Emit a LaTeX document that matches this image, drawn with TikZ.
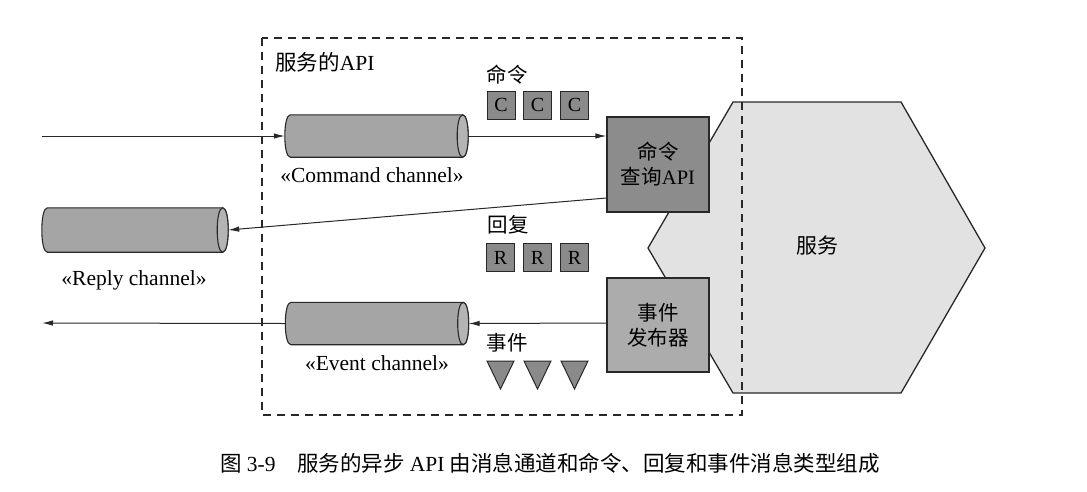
\documentclass[tikz,border=0pt]{standalone}
\usepackage{fontspec}
\setmainfont{Liberation Serif}
\newfontfamily\cjk{Noto Sans CJK SC}
\usetikzlibrary{shapes.geometric,arrows.meta}
\definecolor{cmdgray}{RGB}{140,140,140}
\definecolor{evtgray}{RGB}{172,172,172}
\definecolor{cylgray}{RGB}{165,165,165}
\definecolor{cylend}{RGB}{180,180,180}
\definecolor{msggray}{RGB}{138,138,138}
\definecolor{hexgray}{RGB}{226,226,226}
\definecolor{linegray}{RGB}{40,40,40}
\tikzset{
  lbl/.style={font=\fontsize{21.5}{24}\selectfont, inner sep=0pt},
  chan/.style={rectangle, draw=none, minimum width=183pt, minimum height=42pt, inner sep=0pt},
  cylline/.style={draw=linegray, line width=1.1pt},
  apibox/.style={draw=linegray, line width=1.1pt, minimum width=102pt, minimum height=95pt,
    align=center, inner sep=0pt, font=\fontsize{20.5}{25}\selectfont},
  msgbox/.style={draw=linegray, line width=1pt, fill=msggray, minimum width=28pt,
    minimum height=28pt, inner sep=0pt, font=\fontsize{20}{20}\selectfont},
  conn/.style={draw=linegray, line width=1pt, -{Latex[length=11pt,width=5.5pt]}},
  tri/.style={draw=linegray, line width=1pt, fill=msggray, line join=miter}
}
\newcommand\chcyl[1]{%
  \draw[cylline, fill=cylgray] ([xshift=5.5pt]#1.north west) -- ([xshift=-5.5pt]#1.north east)
    .. controls ([xshift=1.83pt]#1.north east) and ([xshift=1.83pt]#1.south east) .. ([xshift=-5.5pt]#1.south east)
    -- ([xshift=5.5pt]#1.south west)
    .. controls ([xshift=-1.83pt]#1.south west) and ([xshift=-1.83pt]#1.north west) .. ([xshift=5.5pt]#1.north west) -- cycle;
  \draw[cylline, fill=cylend] ([xshift=-5.5pt]#1.north east)
    .. controls ([xshift=1.83pt]#1.north east) and ([xshift=1.83pt]#1.south east) .. ([xshift=-5.5pt]#1.south east)
    .. controls ([xshift=-12.83pt]#1.south east) and ([xshift=-12.83pt]#1.north east) .. ([xshift=-5.5pt]#1.north east) -- cycle;
}
\begin{document}
\begin{tikzpicture}[x=1pt,y=-1pt]
\useasboundingbox (0,0) rectangle (1087,491);
\fill[white] (0,0) rectangle (1087,491);
% service hexagon
\draw[draw=linegray, line width=1.3pt, fill=hexgray]
  (648,248) -- (733,102) -- (901,102) -- (985,248) -- (901,393) -- (733,393) -- cycle;
\node[font=\cjk\fontsize{21}{24}\selectfont, inner sep=0pt] (svc) at (817,246) {服务};
% dashed API boundary
\draw[draw=linegray, line width=1.2pt, dash pattern=on 8pt off 6pt] (262,38) rectangle (742,415);
\node[lbl] (apilbl) at (325,62) {{\cjk 服务的}API};
% API boxes
\node[apibox, fill=cmdgray] (cmd) at (658,164.5) {{\cjk 命令}\\{\cjk 查询}API};
\node[apibox, fill=evtgray, minimum height=94pt] (pub) at (658,325) {{\cjk 事件}\\{\cjk 发布器}};
% channels
\node[chan] (cmdch) at (376.5,136) {};
\chcyl{cmdch}
\node[lbl] (cmdchl) at (372,175) {«Command channel»};
\node[chan, minimum width=186pt, minimum height=44pt] (repch) at (135,230) {};
\chcyl{repch}
\node[lbl] (repchl) at (134,280) {«Reply channel»};
\node[chan] (evtch) at (377,323.5) {};
\chcyl{evtch}
\node[lbl] (evtchl) at (377,363) {«Event channel»};
% coordinates for free ends
\coordinate (inp) at (42,136);
\coordinate (outp) at (42,323);
% connectors
\draw[conn] (inp) -- (cmdch.west);
\draw[conn] (cmdch.east) -- (cmd.west |- cmdch.east);
\draw[conn] ([yshift=-33.5pt]cmd.west) -- (repch.east);
\draw[conn] ([yshift=2pt]pub.west) -- (evtch.east);
\draw[conn] (evtch.west) -- (outp);
% command messages
\node[lbl, font=\cjk\fontsize{20.5}{24}\selectfont] (cmdl) at (507,75) {命令};
\node[msgbox] (c1) at (501,105) {C};
\node[msgbox] (c2) at (537.5,105) {C};
\node[msgbox] (c3) at (574.5,105) {C};
% reply messages
\node[lbl, font=\cjk\fontsize{20.5}{24}\selectfont] (repl) at (508,225) {回复};
\node[msgbox] (r1) at (500.5,257.5) {R};
\node[msgbox] (r2) at (537.5,257.5) {R};
\node[msgbox] (r3) at (574.5,257.5) {R};
% event messages
\node[lbl, font=\cjk\fontsize{20.5}{24}\selectfont] (evtl) at (507,343) {事件};
\draw[tri] (487,361) -- (514,361) -- (500.5,389) -- cycle;
\draw[tri] (524,361) -- (551,361) -- (537.5,389) -- cycle;
\draw[tri] (561,361) -- (588,361) -- (574.5,389) -- cycle;
% caption
\node[font=\fontsize{21.5}{24}\selectfont, inner sep=0pt] (cap) at (550,463)
  {{\cjk 图} 3-9\hspace{1em}{\cjk 服务的异步} API {\cjk 由消息通道和命令、回复和事件消息类型组成}};
\end{tikzpicture}
\end{document}
